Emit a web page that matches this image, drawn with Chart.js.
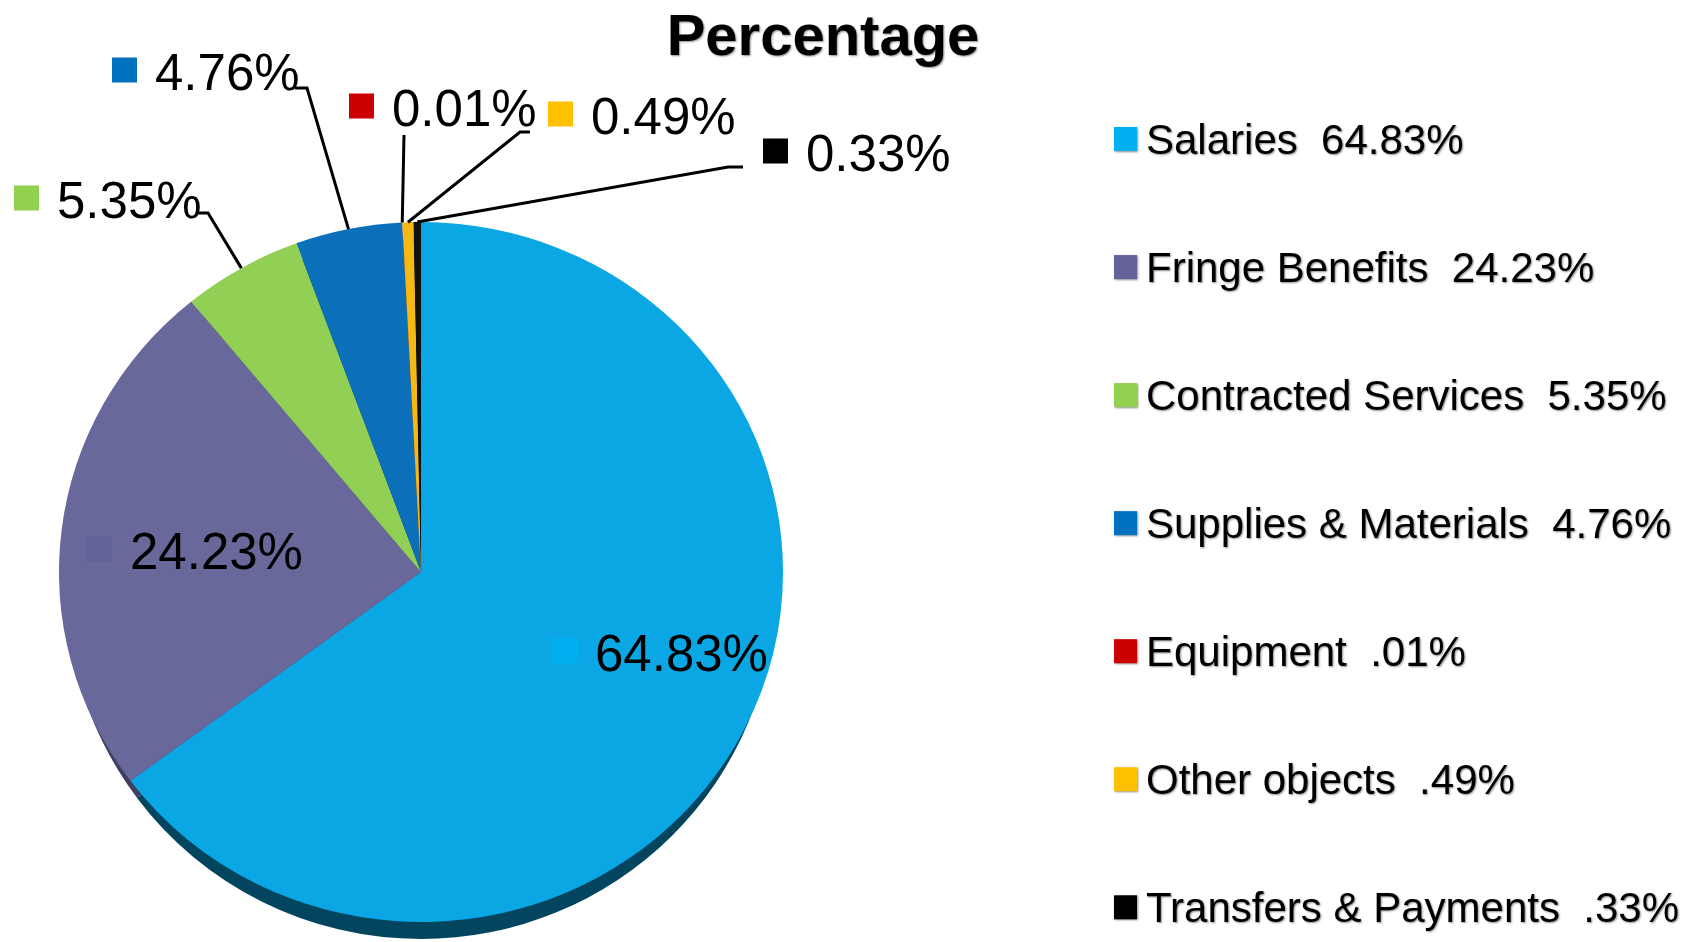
<!DOCTYPE html>
<html>
<head>
<meta charset="utf-8">
<title>Percentage</title>
<script src="https://cdn.jsdelivr.net/npm/chart.js@4.4.1/dist/chart.umd.min.js"></script>
<style>
    html, body { margin: 0; padding: 0; background: #fff; }
    canvas { display: block; }
</style>
</head>
<body>
<canvas id="pieChart" width="1704" height="942"></canvas>
<script>
const categories = ['Salaries', 'Fringe Benefits', 'Contracted Services', 'Supplies & Materials', 'Equipment', 'Other objects', 'Transfers & Payments'];
const percentages = [64.83, 24.23, 5.35, 4.76, 0.01, 0.49, 0.33];
const sliceColors = ['#0aa7e4', '#68689a', '#92cf55', '#0b6fb9', '#c00000', '#f5b914', '#111111'];
const rimColors = ['#03455f', '#3f3f60', '#5a8233', '#074472', '#700000', '#94700b', '#000000'];
const keyColors = ['#00b0f0', '#636399', '#92d050', '#0070c0', '#cc0000', '#ffc000', '#000000'];

// where each data label sits: [square left, square middle]
const labelSpots = [[552, 651], [87, 549], [14, 198], [112, 70], [349, 106], [548, 114], [763, 151]];
// leader lines of the outside labels: [start x, start y, bend x]
const leaderStarts = [null, null, [196, 213, 208], [295, 88, 307], [404, 135, 404], [530, 132, 520], [743, 167, 728]];

const FONT = '"Liberation Sans", Arial, sans-serif';
const stretchX = 362 / 350; // the pie is drawn a little wider than tall
const rimDepth = 17;

function legendValue(v) {
    // the legend writes .01% instead of 0.01%
    return v.toFixed(2).replace(/^0\./, '.') + '%';
}

const tiltedPie = {
    id: 'tiltedPie',
    beforeDatasetsDraw(chart) {
        const ctx = chart.ctx;
        const arcs = chart.getDatasetMeta(0).data;

        // dark side of the pie, only visible along the bottom
        arcs.forEach((arc, i) => {
            ctx.beginPath();
            ctx.moveTo(arc.x, arc.y + rimDepth);
            ctx.ellipse(arc.x, arc.y + rimDepth, arc.outerRadius * stretchX - 8, arc.outerRadius, 0, arc.startAngle, arc.endAngle);
            ctx.closePath();
            ctx.fillStyle = rimColors[i];
            ctx.fill();
        });

        const cx = arcs[0].x;
        ctx.save();
        ctx.translate(cx, 0);
        ctx.scale(stretchX, 1);
        ctx.translate(-cx, 0);
    },
    afterDatasetsDraw(chart) {
        const ctx = chart.ctx;
        ctx.restore();

        const arcs = chart.getDatasetMeta(0).data;
        ctx.save();
        ctx.font = '51px ' + FONT;
        ctx.textAlign = 'left';
        ctx.textBaseline = 'alphabetic';
        ctx.strokeStyle = '#000';
        ctx.lineWidth = 3;

        arcs.forEach((arc, i) => {
            const [sx, sy] = labelSpots[i];
            const lead = leaderStarts[i];
            if (lead) {
                const mid = (arc.startAngle + arc.endAngle) / 2;
                const ex = arc.x + Math.cos(mid) * arc.outerRadius * stretchX;
                const ey = arc.y + Math.sin(mid) * arc.outerRadius;
                ctx.beginPath();
                ctx.moveTo(lead[0], lead[1]);
                ctx.lineTo(lead[2], lead[1]);
                ctx.lineTo(ex, ey);
                ctx.stroke();
            }
            ctx.fillStyle = keyColors[i];
            ctx.fillRect(sx, sy - 12.5, 25, 25);
            ctx.fillStyle = '#000';
            ctx.fillText(percentages[i].toFixed(2) + '%', sx + 43, sy + 19.5);
        });
        ctx.restore();
    },
    afterDraw(chart) {
        const ctx = chart.ctx;
        ctx.save();
        ctx.shadowColor = 'rgba(0, 0, 0, 0.45)';
        ctx.shadowBlur = 2;
        ctx.shadowOffsetX = 1;
        ctx.shadowOffsetY = 1;

        // title
        ctx.fillStyle = '#000';
        ctx.font = 'bold 58px ' + FONT;
        ctx.textAlign = 'center';
        ctx.fillText('Percentage', 823, 55);

        // legend
        ctx.font = '42px ' + FONT;
        ctx.textAlign = 'left';
        categories.forEach((name, i) => {
            const yc = 139 + i * 128.05;
            ctx.fillStyle = keyColors[i];
            ctx.fillRect(1114, yc - 12, 23, 24);
            ctx.fillStyle = '#000';
            ctx.fillText(name + '  ' + legendValue(percentages[i]), 1146, yc + 15);
        });
        ctx.restore();
    }
};

const ctx = document.getElementById('pieChart').getContext('2d');
const pieChart = new Chart(ctx, {
    type: 'pie',
    data: {
        labels: categories,
        datasets: [{
            data: percentages,
            backgroundColor: sliceColors,
            borderWidth: 0
        }]
    },
    options: {
        responsive: false,
        animation: false,
        devicePixelRatio: 1,
        layout: {
            padding: { left: 71, top: 222, right: 933, bottom: 20 }
        },
        plugins: {
            legend: { display: false },
            title: { display: false },
            tooltip: { enabled: false }
        }
    },
    plugins: [tiltedPie]
});
</script>
</body>
</html>
